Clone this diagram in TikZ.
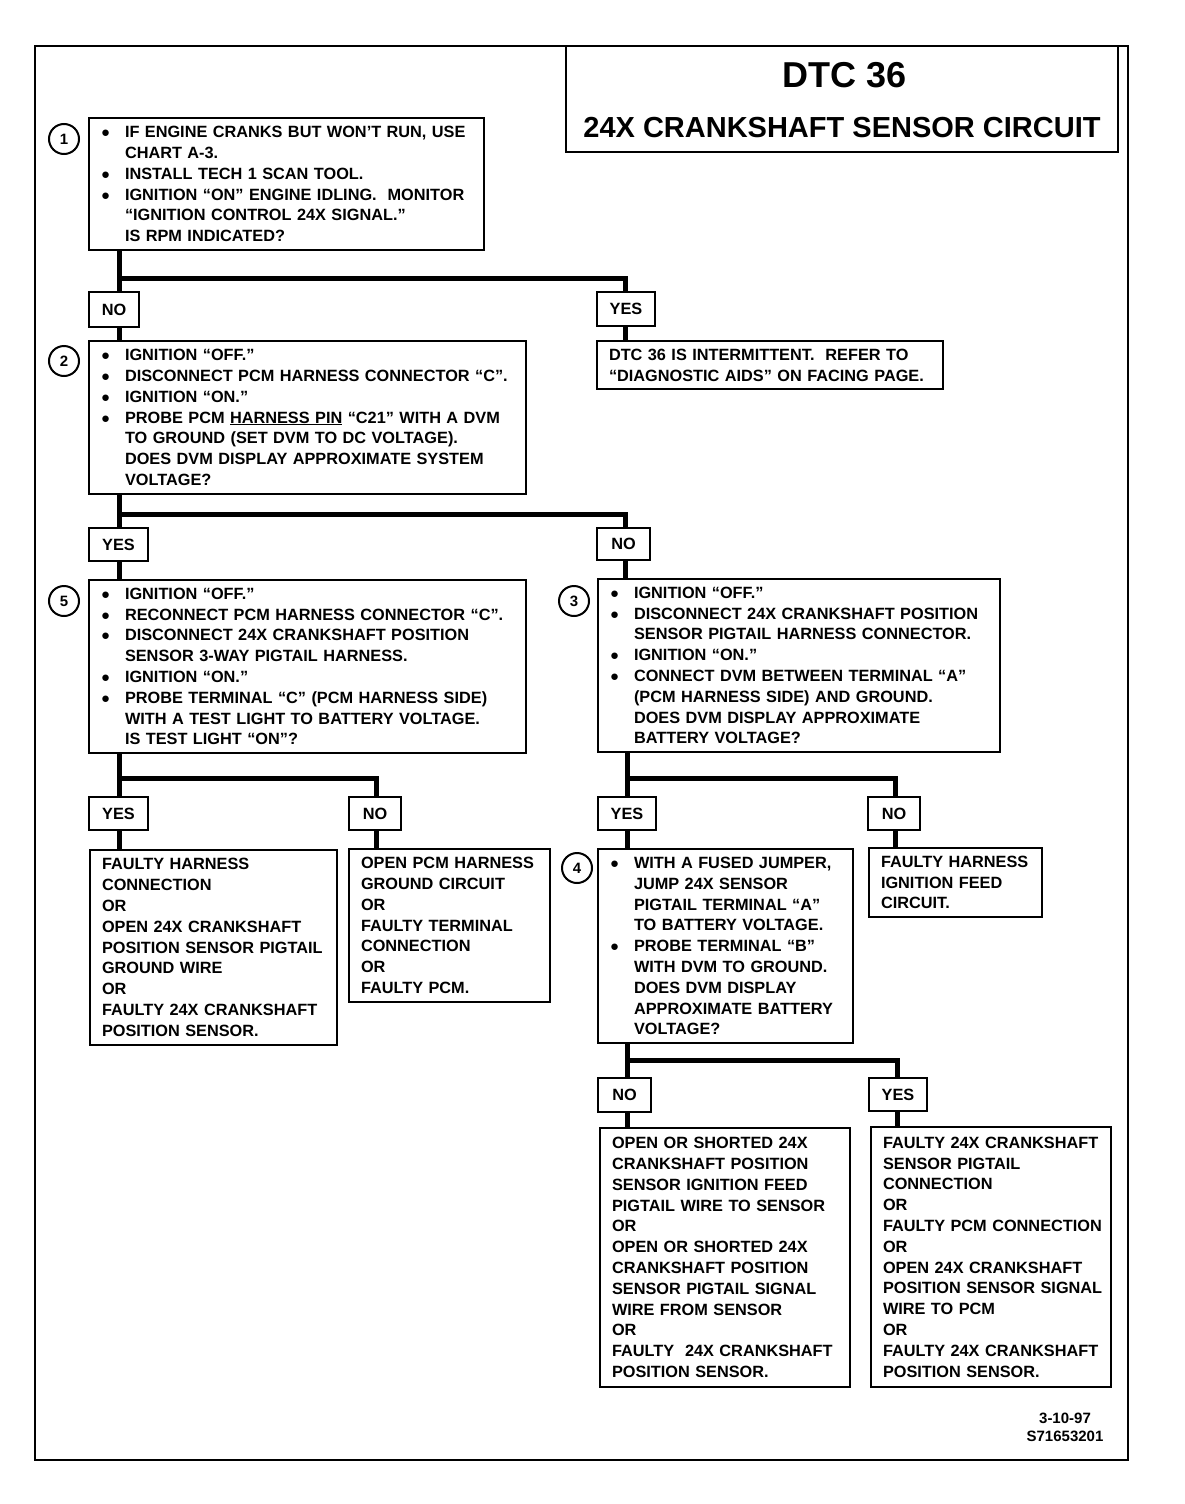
\documentclass[tikz,border=0pt]{standalone}
\usepackage{fontspec}
\setmainfont{Liberation Sans}
\newcommand{\bu}{\makebox[24pt][l]{\fontsize{15}{15}\selectfont ●}}
\newcommand{\hg}{\hspace*{24pt}}
\newcommand{\sk}{\leftskip=6pt\rightskip=0pt plus 1fil minus 12pt}
\newcommand{\cell}[6]{\pgfmathsetlengthmacro\cw{#4-#2-12}\pgfmathsetlengthmacro\ch{#5-#3}%
  \node[cell, text width=\cw, minimum height=\ch] (#1) at ({(#2+#4)/2},{(#3+#5)/2}) {\sk #6\par};}
\newcommand{\ansbox}[6]{\pgfmathsetlengthmacro\cw{#4-#2}\pgfmathsetlengthmacro\ch{#5-#3}%
  \node[ans, minimum width=\cw, minimum height=\ch] (#1) at ({(#2+#4)/2},{(#3+#5)/2}) {#6};}
\tikzset{
  cell/.style={draw, line width=2.2pt, inner xsep=6pt, inner ysep=2pt, font=\bfseries\fontsize{16.3}{20.8}\selectfont},
  ans/.style={draw, line width=2.2pt, inner sep=0pt, font=\bfseries\fontsize{16.3}{20.8}\selectfont},
  num/.style={circle, draw, line width=2pt, minimum size=30pt, inner sep=0pt, font=\bfseries\fontsize{15}{15}\selectfont},
  link/.style={line width=5pt, line join=miter}
}
\begin{document}
\begin{tikzpicture}[x=1pt,y=-1pt]
  \useasboundingbox (0,0) rectangle (1184,1504);
  \draw[line width=2.5pt] (35,46) rectangle (1128,1460);
  \node[draw, line width=2.2pt, minimum width=552pt, minimum height=106pt] (title) at (842,99) {};
  \node[font=\bfseries\fontsize{36}{36}\selectfont] (tnum) at (845,75) {DTC 36};
  \node[font=\bfseries\fontsize{29}{29}\selectfont] (tname) at (842,128) {24X CRANKSHAFT SENSOR CIRCUIT};

  \cell{s1}{89}{118}{484}{250}{\bu IF ENGINE CRANKS BUT WON’T RUN, USE\\ \hg CHART A-3.\\ \bu INSTALL TECH 1 SCAN TOOL.\\
    \bu IGNITION “ON” ENGINE IDLING.~ MONITOR\\ \hg “IGNITION CONTROL 24X SIGNAL.”\\ \hg IS RPM INDICATED?}
  \cell{r1}{597}{341}{943}{389}{DTC 36 IS INTERMITTENT.~ REFER TO\\ “DIAGNOSTIC AIDS” ON FACING PAGE.}
  \cell{s2}{89}{341}{526}{494}{\bu IGNITION “OFF.”\\ \bu DISCONNECT PCM HARNESS CONNECTOR “C”.\\ \bu IGNITION “ON.”\\
    \bu PROBE PCM \underline{HARNESS PIN} “C21” WITH A DVM\\ \hg TO GROUND (SET DVM TO DC VOLTAGE).\\
    \hg DOES DVM DISPLAY APPROXIMATE SYSTEM\\ \hg VOLTAGE?}
  \cell{s5}{89}{580}{526}{753}{\bu IGNITION “OFF.”\\ \bu RECONNECT PCM HARNESS CONNECTOR “C”.\\ \bu DISCONNECT 24X CRANKSHAFT POSITION\\
    \hg SENSOR 3-WAY PIGTAIL HARNESS.\\ \bu IGNITION “ON.”\\ \bu PROBE TERMINAL “C” (PCM HARNESS SIDE)\\
    \hg WITH A TEST LIGHT TO BATTERY VOLTAGE.\\ \hg IS TEST LIGHT “ON”?}
  \cell{s3}{598}{579}{1000}{752}{\bu IGNITION “OFF.”\\ \bu DISCONNECT 24X CRANKSHAFT POSITION\\ \hg SENSOR PIGTAIL HARNESS CONNECTOR.\\
    \bu IGNITION “ON.”\\ \bu CONNECT DVM BETWEEN TERMINAL “A”\\ \hg (PCM HARNESS SIDE) AND GROUND.\\
    \hg DOES DVM DISPLAY APPROXIMATE\\ \hg BATTERY VOLTAGE?}
  \cell{r5y}{90}{850}{337}{1045}{FAULTY HARNESS\\ CONNECTION\\ OR\\ OPEN 24X CRANKSHAFT\\ POSITION SENSOR PIGTAIL\\
    GROUND WIRE\\ OR\\ FAULTY 24X CRANKSHAFT\\ POSITION SENSOR.}
  \cell{r5n}{349}{849}{550}{1002}{OPEN PCM HARNESS\\ GROUND CIRCUIT\\ OR\\ FAULTY TERMINAL\\ CONNECTION\\ OR\\ FAULTY PCM.}
  \cell{s4}{598}{849}{853}{1043}{\bu WITH A FUSED JUMPER,\\ \hg JUMP 24X SENSOR\\ \hg PIGTAIL TERMINAL “A”\\ \hg TO BATTERY VOLTAGE.\\
    \bu PROBE TERMINAL “B”\\ \hg WITH DVM TO GROUND.\\ \hg DOES DVM DISPLAY\\ \hg APPROXIMATE BATTERY\\ \hg VOLTAGE?}
  \cell{r3n}{869}{848}{1042}{917}{FAULTY HARNESS\\ IGNITION FEED\\ CIRCUIT.}
  \cell{r4n}{600}{1128}{850}{1387}{OPEN OR SHORTED 24X\\ CRANKSHAFT POSITION\\ SENSOR IGNITION FEED\\ PIGTAIL WIRE TO SENSOR\\ OR\\
    OPEN OR SHORTED 24X\\ CRANKSHAFT POSITION\\ SENSOR PIGTAIL SIGNAL\\ WIRE FROM SENSOR\\ OR\\ FAULTY~ 24X CRANKSHAFT\\ POSITION SENSOR.}
  \cell{r4y}{871}{1127}{1111}{1387}{FAULTY 24X CRANKSHAFT\\ SENSOR PIGTAIL\\ CONNECTION\\ OR\\ FAULTY PCM CONNECTION\\ OR\\
    OPEN 24X CRANKSHAFT\\ POSITION SENSOR SIGNAL\\ WIRE TO PCM\\ OR\\ FAULTY 24X CRANKSHAFT\\ POSITION SENSOR.}

  \ansbox{a1no}{89}{292}{139}{327}{NO}   \ansbox{a1yes}{597}{292}{655}{326}{YES}
  \ansbox{a2yes}{89}{528}{148}{561}{YES} \ansbox{a2no}{597}{528}{650}{560}{NO}
  \ansbox{a5yes}{89}{797}{148}{830}{YES} \ansbox{a5no}{349}{797}{401}{830}{NO}
  \ansbox{a3yes}{598}{797}{656}{830}{YES} \ansbox{a3no}{868}{797}{920}{830}{NO}
  \ansbox{a4no}{598}{1078}{651}{1112}{NO} \ansbox{a4yes}{869}{1078}{927}{1111}{YES}

  \node[num] (n1) at (64,139) {1};
  \node[num] (n2) at (64,361) {2};
  \node[num] (n5) at (64,601) {5};
  \node[num] (n3) at (574,601) {3};
  \node[num] (n4) at (577,868) {4};

  \coordinate (j1) at (119,278); \coordinate (k1) at (625,278);
  \coordinate (j2) at (119,514); \coordinate (k2) at (625,514);
  \coordinate (j5) at (119,778); \coordinate (k5) at (376,778);
  \coordinate (j3) at (627,778); \coordinate (k3) at (895,778);
  \coordinate (j4) at (627,1060); \coordinate (k4) at (897,1060);
  \foreach \s/\l/\r/\j/\k in {s1/a1no/a1yes/j1/k1, s2/a2yes/a2no/j2/k2, s5/a5yes/a5no/j5/k5, s3/a3yes/a3no/j3/k3, s4/a4no/a4yes/j4/k4}
    {\draw[link] (\s.south -| \j) -- (\l.north -| \j); \draw[link] (\j) -- (\k) -- (\r.north -| \k);}
  \foreach \a/\b/\x in {a1no/s2/j1, a1yes/r1/k1, a2yes/s5/j2, a2no/s3/k2, a5yes/r5y/j5, a5no/r5n/k5, a3yes/s4/j3, a3no/r3n/k3, a4no/r4n/j4, a4yes/r4y/k4}
    {\draw[link] (\a.south -| \x) -- (\b.north -| \x);}

  \node[font=\bfseries\fontsize{15}{18}\selectfont, align=center] (stamp) at (1065,1427) {3-10-97\\S71653201};
\end{tikzpicture}
\end{document}
